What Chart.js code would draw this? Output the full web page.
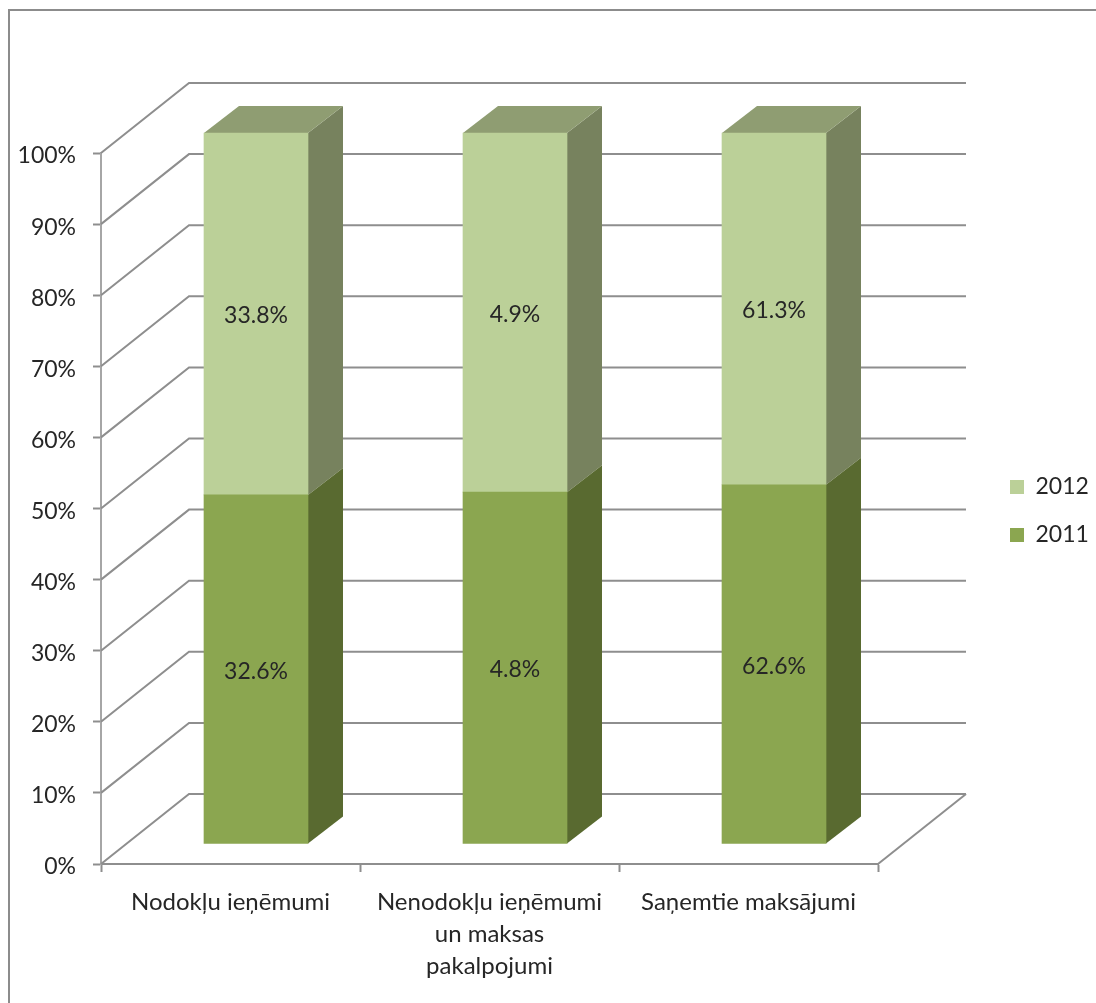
<!DOCTYPE html>
<html>
<head>
<meta charset="utf-8">
<style>
  html, body { margin: 0; padding: 0; background: #fff; overflow: hidden; }
  #frame { position: absolute; left: 8px; top: 9px; width: 1200px; height: 1200px; border: 2px solid #8c8c8c; }
  #chart { position: absolute; left: 0; top: 0; }
</style>
<script src="https://cdn.jsdelivr.net/npm/chart.js@4"></script>
</head>
<body>
<div id="frame"></div>
<canvas id="chart" width="1096" height="1003"></canvas>
<script>
const categories = ['Nodokļu ieņēmumi', ['Nenodokļu ieņēmumi', 'un maksas', 'pakalpojumi'], 'Saņemtie maksājumi'];
const values2011 = [32.6, 4.8, 62.6];
const values2012 = [33.8, 4.9, 61.3];

const textColor = '#262626';
const lineColor = '#8e8e8e';
const fontFamily = 'Lato, sans-serif';
const numberSize = 23;
const labelSize = 24;

// depth of the fake 3D box
const depthX = 88, depthY = 70;
const barDepthX = 35, barDepthY = 27;
const barShiftX = 25.5, barShiftY = 20;

function share(a, b) {
  return a.map((v, i) => v / (v + b[i]) * 100);
}

const sideColors = ['#596a30', '#77825e'];
const topColor = '#8f9d72';

const walls3d = {
  id: 'walls3d',
  beforeLayout(chart) {
    // keep the legend's box as wide as the gap right of the plot
    const legend = chart.legend;
    if (!legend._fitPatched) {
      const fit = legend.fit;
      legend.fit = function () {
        fit.call(this);
        this.width = 218;
      };
      legend._fitPatched = true;
    }
    // percent labels sit a little below their tick
    const y = chart.scales.y;
    if (y && !y._labelsPatched) {
      const drawLabels = y.drawLabels;
      y.drawLabels = function (area) {
        this.ctx.save();
        this.ctx.translate(0, 3);
        drawLabels.call(this, area);
        this.ctx.restore();
      };
      y._labelsPatched = true;
    }
  },
  afterLayout(chart) {
    const legend = chart.legend;
    legend.left = 985;
    legend.top -= 67;
    legend.bottom -= 67;
  },
  beforeDatasetsDraw(chart) {
    const ctx = chart.ctx, y = chart.scales.y, a = chart.chartArea;
    ctx.save();
    ctx.strokeStyle = lineColor;
    ctx.lineWidth = 2;
    y.ticks.forEach(t => {
      const py = y.getPixelForValue(t.value);
      ctx.beginPath();
      ctx.moveTo(a.left, py);
      ctx.lineTo(a.left + depthX, py - depthY);
      ctx.lineTo(a.right + depthX, py - depthY);
      ctx.stroke();
    });
    // floor edge on the right
    ctx.beginPath();
    ctx.moveTo(a.right, a.bottom);
    ctx.lineTo(a.right + depthX, a.bottom - depthY);
    ctx.stroke();
    ctx.restore();
  },
  beforeDatasetDraw(chart, args) {
    const ctx = chart.ctx;
    const meta = chart.getDatasetMeta(args.index);
    ctx.save();
    ctx.translate(barShiftX, -barShiftY);
    meta.data.forEach(bar => {
      const right = bar.x + bar.width / 2, left = bar.x - bar.width / 2;
      // side face
      ctx.fillStyle = sideColors[args.index];
      ctx.beginPath();
      ctx.moveTo(right, bar.y);
      ctx.lineTo(right + barDepthX, bar.y - barDepthY);
      ctx.lineTo(right + barDepthX, bar.base - barDepthY);
      ctx.lineTo(right, bar.base);
      ctx.closePath();
      ctx.fill();
      // top face, only the upper series shows it
      if (args.index === 1) {
        ctx.fillStyle = topColor;
        ctx.beginPath();
        ctx.moveTo(left, bar.y);
        ctx.lineTo(left + barDepthX, bar.y - barDepthY);
        ctx.lineTo(right + barDepthX, bar.y - barDepthY);
        ctx.lineTo(right, bar.y);
        ctx.closePath();
        ctx.fill();
      }
    });
    // leave it translated, the bars themselves are drawn next
  },
  afterDatasetDraw(chart) {
    chart.ctx.restore();
  },
  afterDatasetsDraw(chart) {
    const ctx = chart.ctx;
    ctx.save();
    ctx.font = numberSize + 'px ' + fontFamily;
    ctx.fillStyle = textColor;
    ctx.textAlign = 'center';
    ctx.textBaseline = 'middle';
    [values2011, values2012].forEach((vals, d) => {
      chart.getDatasetMeta(d).data.forEach((bar, i) => {
        ctx.fillText(vals[i].toFixed(1) + '%', bar.x + barShiftX, (bar.y + bar.base) / 2 - barShiftY + 2);
      });
    });
    ctx.restore();
  }
};

new Chart(document.getElementById('chart'), {
  type: 'bar',
  data: {
    labels: categories,
    datasets: [
      { label: '2011', data: share(values2011, values2012), backgroundColor: '#8ba650', barThickness: 104, clip: false },
      { label: '2012', data: share(values2012, values2011), backgroundColor: '#bbd098', barThickness: 104, clip: false }
    ]
  },
  options: {
    responsive: false,
    animation: false,
    devicePixelRatio: 1,
    layout: { padding: { top: 153, left: 0, right: 0, bottom: 0 } },
    plugins: {
      legend: {
        position: 'right',
        reverse: true,
        labels: {
          boxWidth: 14,
          boxHeight: 14,
          padding: 25,
          color: textColor,
          font: { family: fontFamily, size: numberSize }
        }
      },
      tooltip: { enabled: false }
    },
    scales: {
      x: {
        stacked: true,
        afterFit(s) { s.height = 139; },
        grid: { drawOnChartArea: false, tickLength: 8, tickColor: lineColor, tickWidth: 2, offset: true },
        border: { color: lineColor, width: 2 },
        ticks: {
          color: textColor,
          maxRotation: 0,
          autoSkip: false,
          padding: 14,
          font: { family: fontFamily, size: labelSize, lineHeight: 1.33 }
        }
      },
      y: {
        stacked: true,
        min: 0,
        max: 100,
        afterFit(s) { s.width = 101; },
        grid: { drawOnChartArea: false, tickLength: 8, tickColor: lineColor, tickWidth: 2 },
        border: { color: '#a6a6a6', width: 2 },
        ticks: {
          stepSize: 10,
          color: textColor,
          padding: 17,
          callback: v => v + '%',
          font: { family: fontFamily, size: numberSize }
        }
      }
    }
  },
  plugins: [walls3d]
});
</script>
</body>
</html>
